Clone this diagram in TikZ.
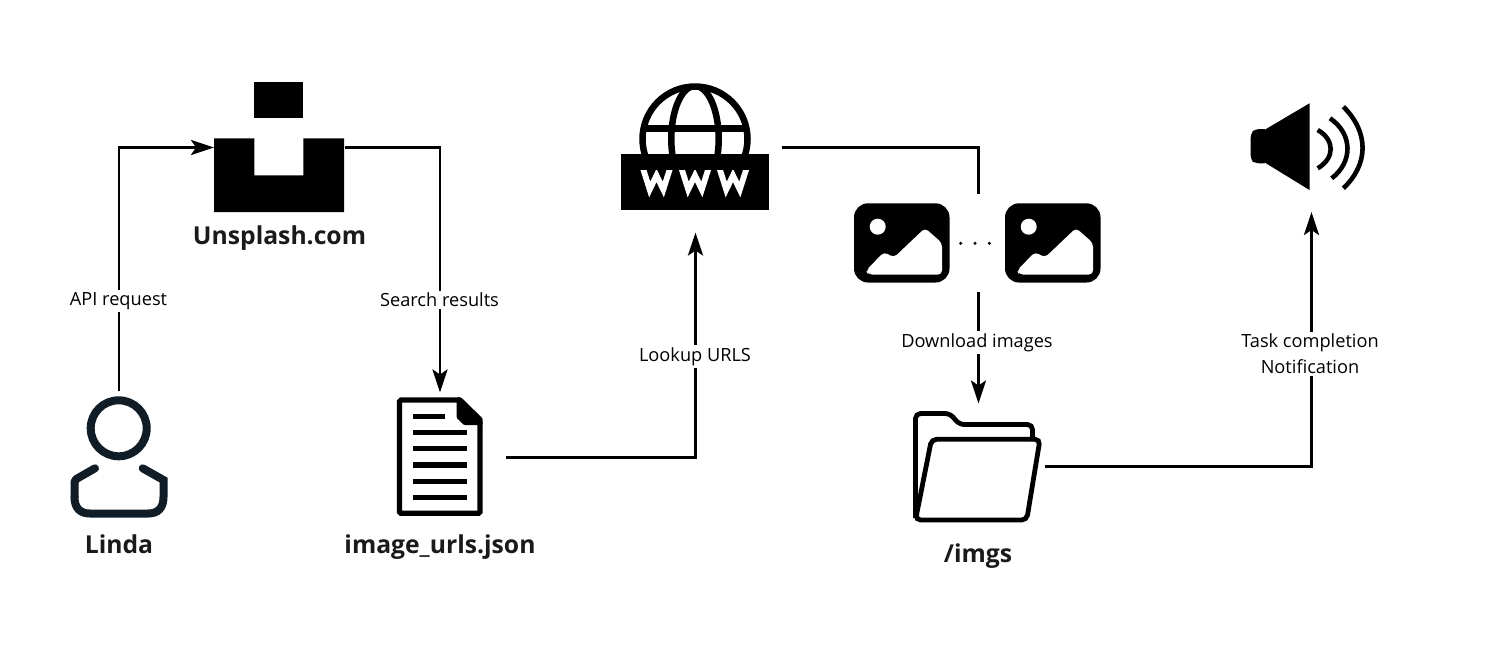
\documentclass[tikz,border=0pt]{standalone}
\usepackage{fontspec}
\setmainfont{Open Sans}
\usetikzlibrary{arrows.meta}
\definecolor{ink}{HTML}{1A1A1A}
\definecolor{person}{HTML}{101C26}
\tikzset{
  iconbox/.style={rectangle,inner sep=0pt,outer sep=0pt,draw=none},
  conn/.style={draw=black,line width=2.8pt},
  arrowconn/.style={conn,-{Stealth[length=23pt,width=15pt,inset=5pt]}},
  edgelabel/.style={fill=white,text=black,inner sep=2pt,align=center,font=\fontsize{18.2}{26}\selectfont},
  title/.style={text=ink,inner sep=0pt,font=\fontsize{24.7}{30}\selectfont\bfseries},
}
\newcommand{\imgicon}[1]{%
  \begin{scope}[xshift=#1]
    \fill[black,rounded corners=14pt] (854,203.3) rectangle (949.5,282.5);
    \fill[white] (877.7,226.7) circle (8);
    \fill[white,rounded corners=4pt] (866,270.5) -- (884,252) -- (894,257.5) -- (925,228) -- (942,243) -- (942,274.5) -- (868,274.5) -- cycle;
  \end{scope}}
\newcommand{\wicon}[1]{%
  \begin{scope}
    \clip (#1-20,170) rectangle (#1+20,198);
    \draw[white,line width=5.8pt,miter limit=10] (#1-14.6,165) -- (#1-6.8,189.5) -- (#1,175.5) -- (#1+6.8,189.5) -- (#1+14.6,165);
  \end{scope}}
\begin{document}
\begin{tikzpicture}[x=1pt,y=-1pt]
\useasboundingbox (0,0) rectangle (1502,665);
% anchors of icons
\node[iconbox,minimum width=98pt,minimum height=127pt] (linda) at (119,454.5) {};
\node[iconbox,minimum width=131pt,minimum height=130pt] (unsplash) at (279.5,147.5) {};
\node[iconbox,minimum width=132pt,minimum height=130pt] (doc) at (440,457.5) {};
\node[iconbox,minimum width=172pt,minimum height=170pt] (www) at (695.5,147.5) {};
\node[iconbox,minimum width=248pt,minimum height=98pt] (images) at (978.5,243) {};
\node[iconbox,minimum width=132pt,minimum height=126pt] (folder) at (978.5,466.5) {};
\node[iconbox,minimum width=122pt,minimum height=112pt] (speaker) at (1311.5,156) {};
% Linda
\draw[person,line width=8pt] (118.7,428.3) circle (28);
\draw[person,line width=8pt,line cap=round,line join=round,rounded corners=2pt]
  (95,468.3) -- (74.5,480) -- (74.5,497);
\draw[person,line width=8pt,line cap=round]
  (74.5,497) .. controls (74.5,508) and (80,513.5) .. (90,513.5) -- (148,513.5)
  .. controls (158,513.5) and (163.5,508) .. (163.5,497) -- (163.5,480) -- (142.7,468.3);
% Unsplash
\fill[black] (254.3,82) rectangle (303.3,118.3);
\fill[black] (214,138.3) -- (254.3,138.3) -- (254.3,175.3) -- (303.3,175.3) -- (303.3,138.3) -- (344,138.3) -- (344,212) -- (214,212) -- cycle;
% Document
\draw[black,line width=5.3pt,rounded corners=1.5pt] (460,400) -- (399.5,400) -- (399.5,513.3) -- (480,513.3) -- (480,422);
\fill[black,rounded corners=1pt] (456.7,397.3) -- (461,397.3) -- (482.7,418.5) -- (482.7,425) -- (464,425) -- (456.7,418) -- cycle;
\fill[black] (413.3,413.7) rectangle (445,419);
\foreach \yy in {432.3,448.7,465,481.3,497.7}{\fill[black] (413.3,\yy-2.65) rectangle (466.7,\yy+2.65);}
% WWW
\begin{scope}
  \clip (695,139) circle (55);
  \draw[black,line width=6.5pt] (640,128.3) -- (750,128.3);
  \draw[black,line width=6.5pt] (695,139) ellipse (23.7 and 53);
\end{scope}
\draw[black,line width=6.5pt] (695,139) circle (52.5);
\fill[black] (620.7,154.3) rectangle (768.7,209.7);
\wicon{656.5}\wicon{695}\wicon{733}
% Images
\imgicon{0pt}
\imgicon{151pt}
\fill[black] (960.7,243.3) circle (1.7) (975,243.3) circle (1.7) (989.3,243.3) circle (1.7);
% Folder
\draw[black,line width=4.8pt,rounded corners=5pt] (915.5,518) -- (915.5,413.5) -- (950,413.5) -- (959.3,424.5) -- (1032.5,424.5) -- (1032.5,441);
\draw[black,line width=4.8pt,rounded corners=5pt] (915.5,520) -- (931.5,439.3) -- (1040,439.3) -- (1026.7,520) -- cycle;
% Speaker
\fill[black,rounded corners=4pt] (1268.3,129) -- (1255,129) -- (1250.7,133.3) -- (1250.7,160) -- (1255,163.3) -- (1268.3,163.3) -- cycle;
\fill[black] (1309.5,103.3) -- (1309.5,190) -- (1266,163.3) -- (1266,129) -- cycle;
\draw[black,line width=4.6pt] (1317.7,130) .. controls (1335,140) and (1335,158) .. (1317.7,168.3);
\draw[black,line width=4.6pt] (1330,118.3) .. controls (1353,134) and (1353,162) .. (1331.7,178.3);
\draw[black,line width=4.6pt] (1343.3,106.7) .. controls (1369,132) and (1369,164) .. (1343.3,188.3);
% Connectors
\draw[arrowconn] (linda.north) |- (unsplash.west);
\draw[arrowconn] (unsplash.east) -| (doc.north);
\draw[arrowconn] (doc.east) -| (www.south);
\draw[conn] (www.east) -| (images.north);
\draw[arrowconn] (images.south) -- (folder.north);
\draw[arrowconn] (folder.east) -| (speaker.south);
% Connector labels
\node[edgelabel] (l1) at (118.5,301) {API request};
\node[edgelabel] (l2) at (439.5,300) {Search results};
\node[edgelabel] (l3) at (695,356.5) {Lookup URLS};
\node[edgelabel] (l4) at (977,342.5) {Download images};
\node[edgelabel] (l5) at (1310,354) {Task completion\\Notification};
% Titles
\node[title] (t1) at (119,544) {Linda};
\node[title] (t2) at (279.5,238) {Unsplash.com};
\node[title] (t3) at (440,547) {image\_urls.json};
\node[title] (t4) at (978,556) {/imgs};
\end{tikzpicture}
\end{document}
